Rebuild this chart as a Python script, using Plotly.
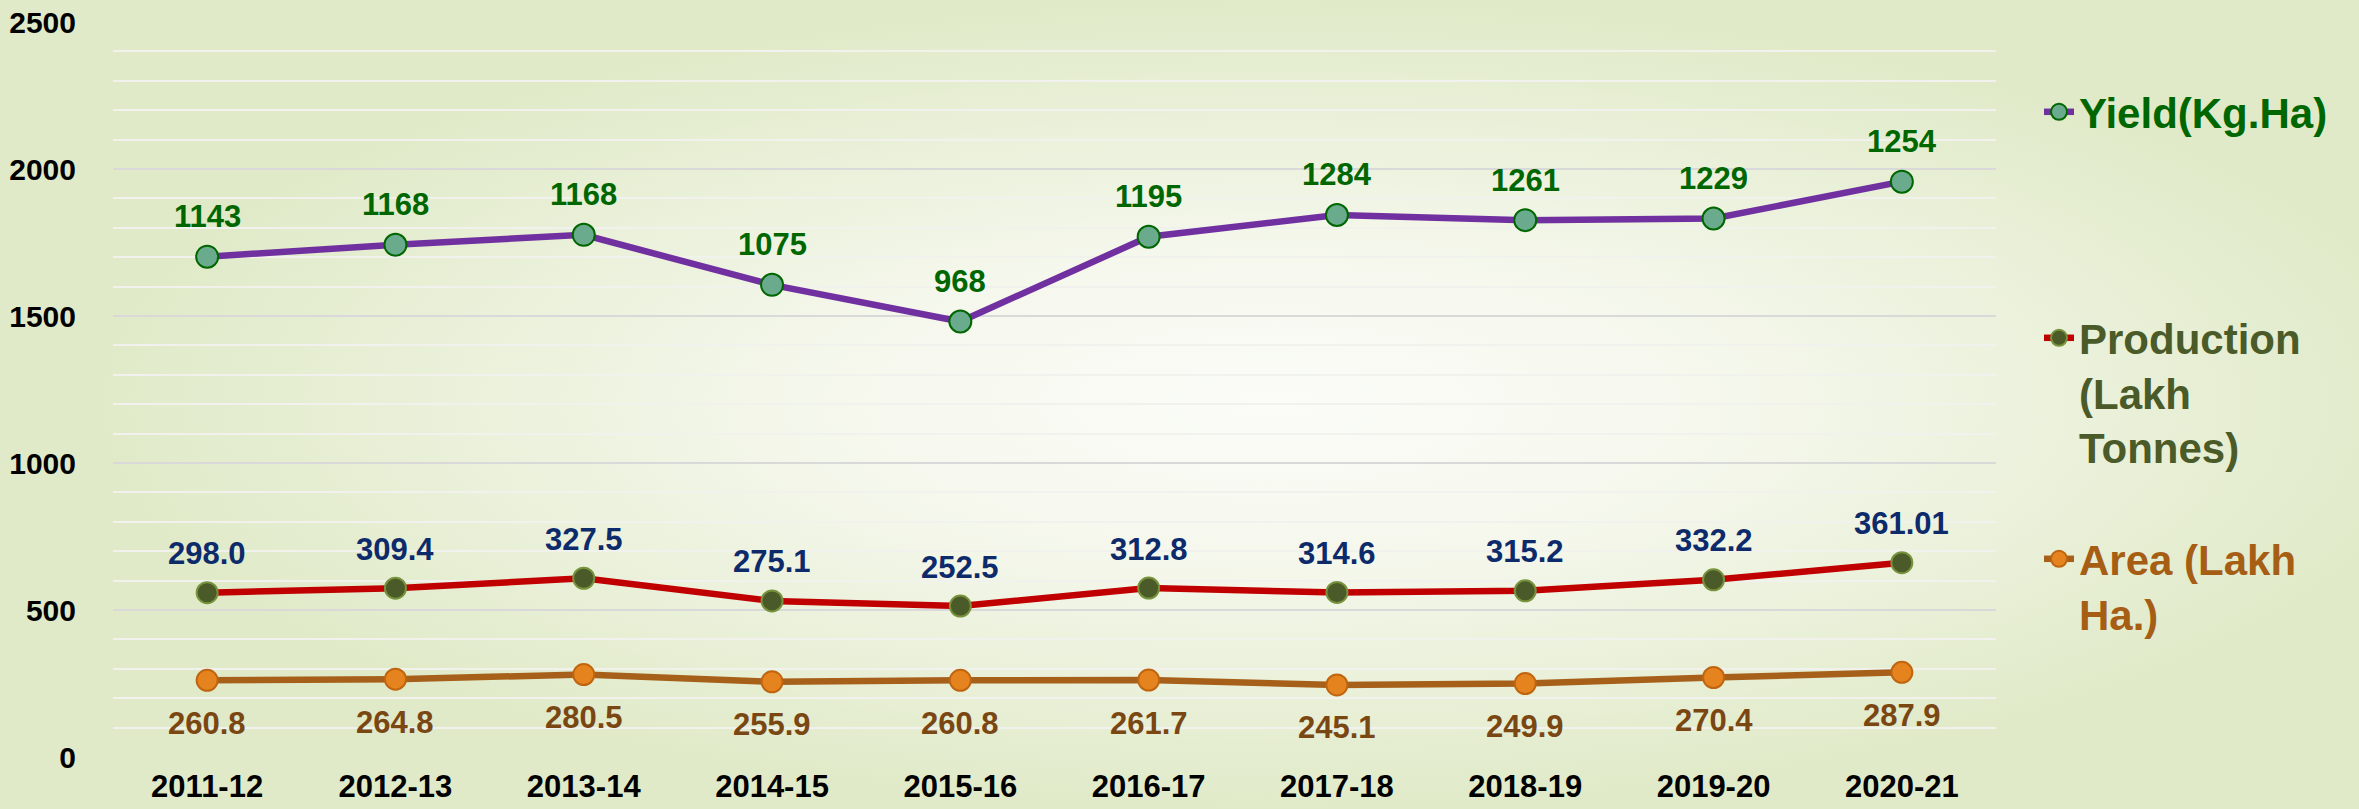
import base64
import numpy as np
import plotly.graph_objects as go

# ---- data ----
years = ["2011-12", "2012-13", "2013-14", "2014-15", "2015-16",
         "2016-17", "2017-18", "2018-19", "2019-20", "2020-21"]
area = [260.8, 264.8, 280.5, 255.9, 260.8, 261.7, 245.1, 249.9, 270.4, 287.9]
production = [298.0, 309.4, 327.5, 275.1, 252.5, 312.8, 314.6, 315.2, 332.2, 373.0]
yield_ = [1143, 1168, 1168, 1075, 968, 1195, 1284, 1261, 1229, 1296]

area_labels = ["260.8", "264.8", "280.5", "255.9", "260.8", "261.7", "245.1", "249.9", "270.4", "287.9"]
production_labels = ["298.0", "309.4", "327.5", "275.1", "252.5", "312.8", "314.6", "315.2", "332.2", "361.01"]
yield_labels = ["1143", "1168", "1168", "1075", "968", "1195", "1284", "1261", "1229", "1254"]

y_ticks = [0, 500, 1000, 1500, 2000, 2500]

# stacked totals (the chart is a stacked line chart)
area_top = np.array(area)
prod_top = area_top + np.array(production)
yield_top = prod_top + np.array(yield_)

FONT = "Liberation Sans, Arial, sans-serif"
LBL = 31

fig = go.Figure()

fig.add_trace(go.Scatter(
    x=years, y=area, stackgroup="s", fill="none", mode="lines+markers",
    name="Area (Lakh<br>Ha.)", legend="legend3",
    line=dict(color="#A6601A", width=6.5),
    marker=dict(size=21, color="#E5841F", line=dict(color="#C0650F", width=2)),
))
fig.add_trace(go.Scatter(
    x=years, y=production, stackgroup="s", fill="none", mode="lines+markers",
    name="Production<br>(Lakh<br>Tonnes)", legend="legend2",
    line=dict(color="#C00000", width=6.5),
    marker=dict(size=21, color="#4B5A29", line=dict(color="#77933C", width=2)),
))
fig.add_trace(go.Scatter(
    x=years, y=yield_, stackgroup="s", fill="none", mode="lines+markers",
    name="Yield(Kg.Ha)", legend="legend",
    line=dict(color="#7030A0", width=6.5),
    marker=dict(size=22, color="#6AAB8E", line=dict(color="#006600", width=2)),
))

annotations = []
for xs, ys, labels, shift, color in [
    (years, yield_top, yield_labels, 40, "#006600"),
    (years, prod_top, production_labels, 39, "#0D2A6B"),
    (years, area_top, area_labels, -43, "#7A4712"),
]:
    for xv, yv, t in zip(xs, ys, labels):
        annotations.append(dict(
            x=xv, y=float(yv), text=t, showarrow=False, yshift=shift,
            font=dict(family=FONT, size=LBL, color=color, weight="bold"),
        ))

# background radial gradient
svg = (
    '<svg xmlns="http://www.w3.org/2000/svg" width="2359" height="809" '
    'preserveAspectRatio="none" viewBox="0 0 2359 809">'
    '<defs><radialGradient id="g" cx="0.54" cy="0.5" r="0.5" fx="0.54" fy="0.5">'
    '<stop offset="0" stop-color="#fbfcf8"/>'
    '<stop offset="0.35" stop-color="#f6f8ee"/>'
    '<stop offset="1" stop-color="#e0eac8"/>'
    '</radialGradient></defs>'
    '<rect width="2359" height="809" fill="url(#g)"/></svg>'
)
src = "data:image/svg+xml;base64," + base64.b64encode(svg.encode()).decode()

L, R, T, B = 113, 363, 22, 52
W, H = 2359, 809
pw, ph = W - L - R, H - T - B

def leg(ytop_px, color):
    return dict(
        x=(2039 - L) / pw, y=(H - B - ytop_px) / ph, xanchor="left", yanchor="top",
        bgcolor="rgba(0,0,0,0)", valign="top", itemsizing="trace",
        font=dict(family=FONT, size=42, color=color, weight="bold"),
    )

fig.update_layout(
    width=W, height=H,
    margin=dict(l=L, r=R, t=T, b=B, autoexpand=False),
    paper_bgcolor="#eef3e0",
    plot_bgcolor="rgba(0,0,0,0)",
    showlegend=True,
    legend=leg(78, "#006600"),
    legend2=leg(304, "#4A5A28"),
    legend3=leg(525, "#A65E14"),
    annotations=annotations,
    images=[dict(
        source=src, xref="paper", yref="paper",
        x=-L / pw, y=1 + T / ph, sizex=W / pw, sizey=H / ph,
        xanchor="left", yanchor="top", sizing="stretch", layer="below",
    )],
    xaxis=dict(
        type="category", range=[-0.5, 9.5], showgrid=False, showline=False,
        zeroline=False, ticks="", ticklabelstandoff=8, automargin=False,
        tickfont=dict(family=FONT, size=LBL, color="#000000", weight="bold"),
    ),
    yaxis=dict(
        range=[0, 2500], tickvals=y_ticks, showline=False, zeroline=False,
        gridcolor="#d9d9d9", gridwidth=2, ticks="", ticklabelstandoff=36,
        automargin=False,
        minor=dict(dtick=100, showgrid=True, gridcolor="#f1f1ee", gridwidth=2),
        tickfont=dict(family=FONT, size=30, color="#000000", weight="bold"),
    ),
)

fig.write_html(
    "out.html",
    config={"displayModeBar": False},
    post_script="document.body.style.margin='0';document.body.style.overflow='hidden';",
)
